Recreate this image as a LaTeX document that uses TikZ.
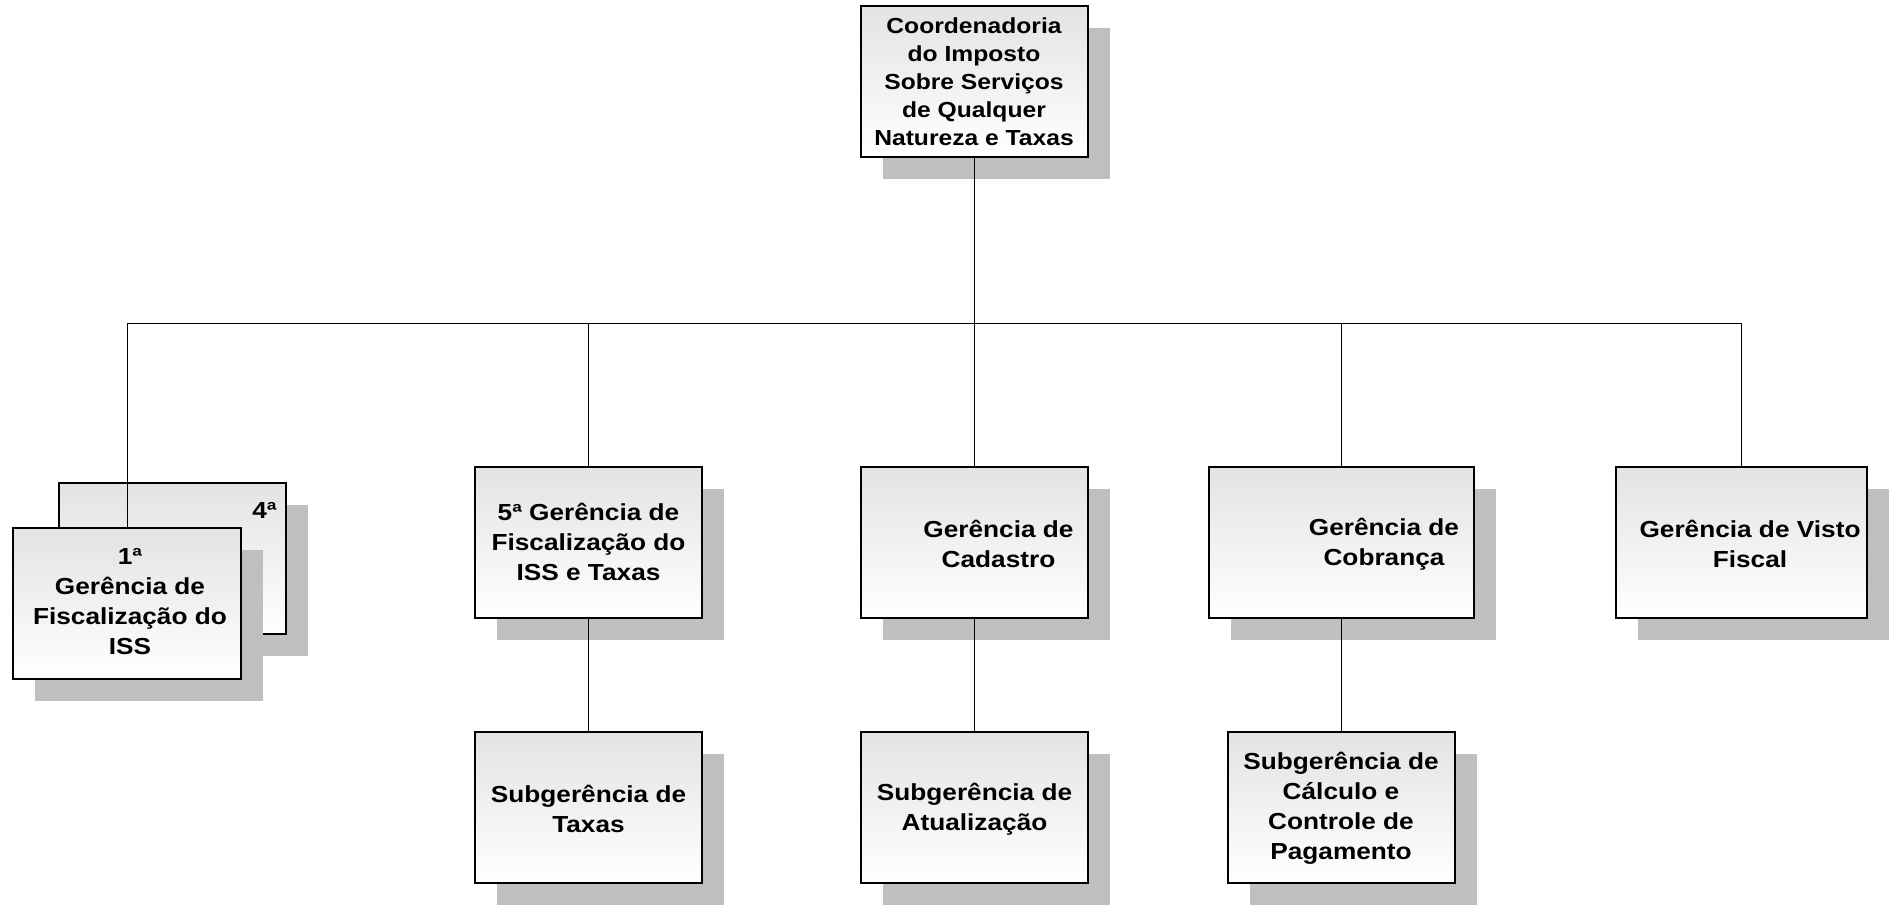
\documentclass[tikz,border=0pt]{standalone}
\usepackage{fontspec}
\setmainfont{Liberation Sans}[FakeStretch=1.13]
\usetikzlibrary{shadows}
\begin{document}
\begin{tikzpicture}[x=0.5pt,y=-0.5pt,
  orgbox/.style={draw=black, line width=1pt, top color=black!11, bottom color=white,
    inner sep=0pt, minimum height=75.5pt,
    drop shadow={shadow xshift=11pt, shadow yshift=-11pt, fill=black!25, opacity=1}},
  lbl/.style={align=center, inner sep=0pt, font=\fontsize{11.6pt}{15pt}\selectfont\bfseries},
  toplbl/.style={align=center, inner sep=0pt, font=\fontsize{10.9pt}{14pt}\selectfont\bfseries},
  conn/.style={draw=black, line width=0.5pt}]
\useasboundingbox (0,0) rectangle (1894,906);

% top
\node[orgbox, minimum width=113.5pt] (top) at (974,81.5) {};
\node[toplbl] (topt) at (974,82) {Coordenadoria\\do Imposto\\Sobre Serviços\\de Qualquer\\Natureza e Taxas};

% level 2
\node[orgbox, minimum width=113.5pt] (g4) at (172.5,558) {};
\node[lbl, anchor=east] (g4t) at (277,510) {4ª};
\node[orgbox, minimum width=114pt] (g1) at (127,603.5) {};
\node[lbl] (g1t) at (130,601.5) {1ª\\Gerência de\\Fiscalização do\\ISS};

\node[orgbox, minimum width=113.5pt] (g5) at (588.5,542.5) {};
\node[lbl] (g5t) at (588.5,542) {5ª Gerência de\\Fiscalização do\\ISS e Taxas};

\node[orgbox, minimum width=113.5pt] (cad) at (974.5,542.5) {};
\node[lbl] (cadt) at (998.5,544) {Gerência de\\Cadastro};

\node[orgbox, minimum width=132.5pt] (cob) at (1341,542.5) {};
\node[lbl] (cobt) at (1384,544) {Gerência de\\Cobrança};

\node[orgbox, minimum width=125.5pt] (vis) at (1741.5,542.5) {};
\node[lbl] (vist) at (1750,544) {Gerência de Visto\\Fiscal};

% level 3
\node[orgbox, minimum width=113.5pt] (stx) at (588.5,807.5) {};
\node[lbl] (stxt) at (588.5,809) {Subgerência de\\Taxas};

\node[orgbox, minimum width=113.5pt] (sat) at (974.5,807.5) {};
\node[lbl] (satt) at (974.5,809) {Subgerência de\\Atualização};

\node[orgbox, minimum width=113.5pt] (spg) at (1341,807.5) {};
\node[lbl] (spgt) at (1341,808) {Subgerência de\\Cálculo e\\Controle de\\Pagamento};

% connectors
\coordinate (barL) at (127,323);
\coordinate (barR) at (1741.5,323);
\coordinate (barM) at (974,323);
\draw[conn] (top.south) -- (barM);
\draw[conn] (barL) -- (barR);
\draw[conn] (barL) -- (g1.north);
\draw[conn] (g5.north |- barL) -- (g5.north);
\draw[conn] (cad.north |- barL) -- (cad.north);
\draw[conn] (cob.north |- barL) -- (cob.north);
\draw[conn] (barR) -- (vis.north);
\draw[conn] (g5.south) -- (stx.north);
\draw[conn] (cad.south) -- (sat.north);
\draw[conn] (cob.south) -- (spg.north);
\end{tikzpicture}
\end{document}
